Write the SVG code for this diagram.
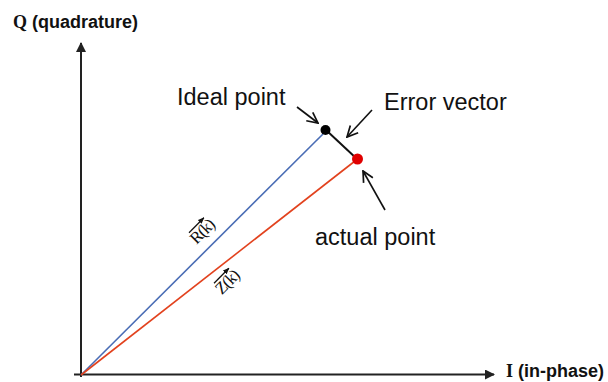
<svg xmlns="http://www.w3.org/2000/svg" width="608" height="382" viewBox="0 0 608 382">
<style>
.lbl{font-family:"Liberation Sans",Arial,sans-serif;font-size:23.5px;fill:#111}
.ax{font-family:"Liberation Sans",Arial,sans-serif;font-size:18px;font-weight:bold;fill:#111}
.ser{font-family:"Liberation Serif","Times New Roman",serif}
.vec{font-family:"Liberation Serif","Times New Roman",serif;font-size:17px;fill:#111;letter-spacing:-1px}
.axis{stroke:#222;stroke-width:2;fill:none}
.ptr{stroke:#111;stroke-width:1.6;fill:none}
</style>
<defs>
<marker id="tri" viewBox="0 0 10 10" refX="9" refY="5" markerWidth="5" markerHeight="5" orient="auto" markerUnits="strokeWidth">
<path d="M0,0 L10,5 L0,10 Z" fill="#222"/>
</marker>
<marker id="vee" viewBox="0 0 12 12" refX="11" refY="6" markerWidth="8" markerHeight="8" orient="auto" markerUnits="strokeWidth">
<path d="M1,1 L11,6 L1,11" fill="none" stroke="#111" stroke-width="1.6"/>
</marker>
<marker id="small" viewBox="0 0 10 10" refX="9" refY="5" markerWidth="5" markerHeight="5" orient="auto" markerUnits="strokeWidth">
<path d="M0,1 L10,5 L0,9 Z" fill="#111"/>
</marker>
</defs>
<g id="axes">
<line class="axis" x1="81" y1="377" x2="81" y2="43" marker-end="url(#tri)"/>
<line class="axis" x1="74" y1="374.5" x2="494" y2="374.5" marker-end="url(#tri)"/>
<text class="ax" x="13" y="28"><tspan class="ser">Q</tspan> (quadrature)</text>
<text class="ax" x="506" y="377"><tspan class="ser">I</tspan> (in-phase)</text>
</g>
<g id="connectors">
<line x1="81" y1="375" x2="323" y2="134" stroke="#4a6db5" stroke-width="1.6"/>
<line x1="81" y1="375" x2="355" y2="161" stroke="#e2421e" stroke-width="1.6"/>
<line x1="326" y1="130" x2="357" y2="159" stroke="#111" stroke-width="2"/>
<line class="ptr" x1="297" y1="107" x2="318" y2="123" marker-end="url(#vee)"/>
<line class="ptr" x1="372" y1="110" x2="347" y2="137" marker-end="url(#vee)"/>
<line class="ptr" x1="385" y1="210" x2="363" y2="171" marker-end="url(#vee)"/>
</g>
<g id="ideal-point">
<circle cx="325.5" cy="130" r="5" fill="#000"/>
<text class="lbl" x="177" y="105">Ideal point</text>
</g>
<g id="actual-point">
<circle cx="357.5" cy="159" r="5.5" fill="#e00000"/>
<text class="lbl" x="315" y="245">actual point</text>
</g>
<g id="error-vector">
<text class="lbl" x="384" y="110">Error vector</text>
</g>
<g id="label-r" transform="translate(206,235.5) rotate(-45)">
<text class="vec" x="0" y="0" text-anchor="middle">R(k)</text>
<line x1="-10" y1="-14" x2="11" y2="-14" stroke="#111" stroke-width="1.3" marker-end="url(#small)"/>
</g>
<g id="label-z" transform="translate(231,286) rotate(-45)">
<text class="vec" x="0" y="0" text-anchor="middle">Z(k)</text>
<line x1="-10" y1="-14" x2="11" y2="-14" stroke="#111" stroke-width="1.3" marker-end="url(#small)"/>
</g>
</svg>
